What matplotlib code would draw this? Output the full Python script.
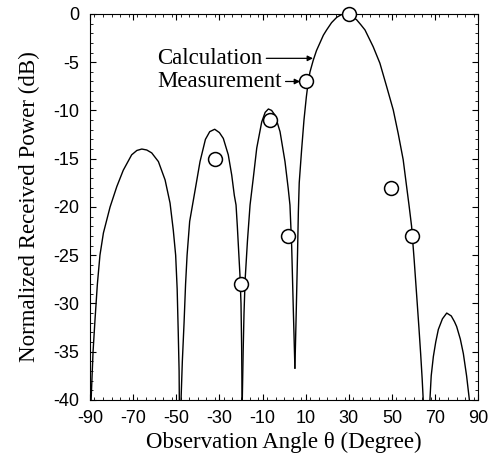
import matplotlib.pyplot as plt
from matplotlib.ticker import MultipleLocator

plt.rcParams['axes.unicode_minus'] = False

# Calculated pattern (deg, dB)
lobe1_x = [-89.5, -88.6, -87.7, -86.6, -85.4, -83.8, -80.7, -77.6, -74.6, -70.7, -68.3, -66.0,
           -63.7, -61.4, -58.3, -55.2, -52.9, -51.4, -50.3, -49.6, -49.1, -48.7, -48.6]
lobe1_y = [-40.0, -35.0, -31.7, -28.0, -25.0, -22.7, -20.0, -17.9, -16.2, -14.6, -14.15, -14.0,
           -14.1, -14.4, -15.3, -17.2, -19.6, -22.4, -25.0, -28.5, -33.0, -37.0, -40.0]

lobe2_x = [-47.8, -47.2, -46.4, -45.7, -45.0, -43.8, -41.0, -39.0, -36.5, -34.5, -32.2, -30.0,
           -28.2, -25.9, -24.3, -23.1, -22.3, -21.7, -21.2, -20.5, -20.0, -19.7, -19.5]
lobe2_y = [-40.0, -36.0, -32.0, -28.0, -25.0, -21.5, -17.9, -15.3, -13.0, -12.2, -11.95, -12.3,
           -12.9, -14.6, -16.7, -18.8, -19.8, -22.0, -24.1, -27.0, -30.0, -34.5, -40.0]

lobe3_x = [-19.4, -19.0, -18.6, -18.1, -17.0, -15.8, -14.3, -12.7, -10.4, -8.8, -7.3, -5.8,
           -4.2, -1.9, 0.4, 1.9, 2.7, 3.5, 4.3, 5.0]
lobe3_y = [-40.0, -35.0, -31.0, -27.6, -23.5, -19.8, -17.0, -13.9, -11.2, -10.2, -9.85, -10.0,
           -10.5, -12.2, -15.3, -18.1, -19.8, -24.1, -31.0, -36.7]

lobe4_x = [5.0, 5.6, 6.2, 6.6, 7.0, 8.1, 9.2, 10.3, 11.2, 12.0, 13.5, 15.0, 16.6, 18.2, 19.7,
           22.0, 24.4, 26.5, 28.2, 30.5, 33.6, 35.5, 37.5, 41.3, 44.4, 47.5, 50.6, 52.9, 55.2,
           56.8, 57.9, 59.1, 60.3, 61.5, 62.5, 63.3, 64.0, 64.5]
lobe4_y = [-36.7, -31.0, -25.0, -20.5, -17.5, -14.1, -11.0, -8.6, -7.0, -6.0, -4.8, -3.8, -3.0,
           -2.2, -1.66, -0.9, -0.35, -0.08, 0.0, -0.1, -0.6, -1.1, -1.66, -3.4, -5.1, -7.5, -9.95,
           -12.4, -15.1, -17.9, -19.8, -22.0, -25.5, -29.3, -32.5, -35.2, -37.8, -40.0]

lobe5_x = [67.6, 68.2, 69.2, 70.3, 71.5, 73.4, 75.4, 77.5, 79.0, 80.0, 81.7, 83.1, 84.6, 85.9]
lobe5_y = [-40.0, -37.5, -35.5, -34.0, -32.7, -31.6, -31.0, -31.3, -31.9, -32.4, -33.7, -35.2,
           -37.5, -40.0]

# Measured points
meas_x = [-32, -20, -6.5, 2, 10, 30, 49.5, 59.5]
meas_y = [-15, -28, -11, -23, -7, 0, -18, -23]

x_ticks = [-90, -70, -50, -30, -10, 10, 30, 50, 70, 90]
y_ticks = [0, -5, -10, -15, -20, -25, -30, -35, -40]

serif = ['Liberation Serif', 'DejaVu Serif']
sans = ['Liberation Sans', 'DejaVu Sans']

fig = plt.figure(figsize=(4.92, 4.65), dpi=100)
ax = fig.add_axes([0.183, 0.14, 0.789, 0.83])

for lx, ly in [(lobe1_x, lobe1_y), (lobe2_x, lobe2_y), (lobe3_x, lobe3_y),
               (lobe4_x, lobe4_y), (lobe5_x, lobe5_y)]:
    ax.plot(lx, ly, color='black', linewidth=1.0)

ax.plot(meas_x, meas_y, 'o', markersize=10, markerfacecolor='white',
        markeredgecolor='black', markeredgewidth=1.1, clip_on=False, zorder=5)

ax.set_xlim(-90, 90)
ax.set_ylim(-40, 0)
ax.set_xticks(x_ticks)
ax.set_yticks(y_ticks)
ax.xaxis.set_minor_locator(MultipleLocator(4))
ax.yaxis.set_minor_locator(MultipleLocator(1))
ax.tick_params(which='both', direction='in', top=True, right=True, labelsize=13)
ax.tick_params(axis='x', pad=7)
ax.tick_params(axis='y', pad=8)
ax.tick_params(which='major', length=4)
ax.tick_params(which='minor', length=2)
for lab in ax.get_xticklabels() + ax.get_yticklabels():
    lab.set_family(sans)

ax.set_xlabel('Observation Angle \u03b8 (Degree)', family=serif, fontsize=16.5, labelpad=4)
ax.set_ylabel('Normalized Received Power (dB)', family=serif, fontsize=16.5, labelpad=9)

ax.annotate('Calculation', xy=(13.4, -4.6), xytext=(-59, -4.6),
            family=serif, fontsize=16.5, va='center',
            arrowprops=dict(arrowstyle='-|>', color='black', lw=0.9,
                            mutation_scale=8, shrinkA=1, shrinkB=0))
ax.annotate('Measurement', xy=(7.4, -7.0), xytext=(-59, -7.0),
            family=serif, fontsize=16.5, va='center',
            arrowprops=dict(arrowstyle='-|>', color='black', lw=0.9,
                            mutation_scale=8, shrinkA=1, shrinkB=0))

fig.savefig('out.png', dpi=100)
